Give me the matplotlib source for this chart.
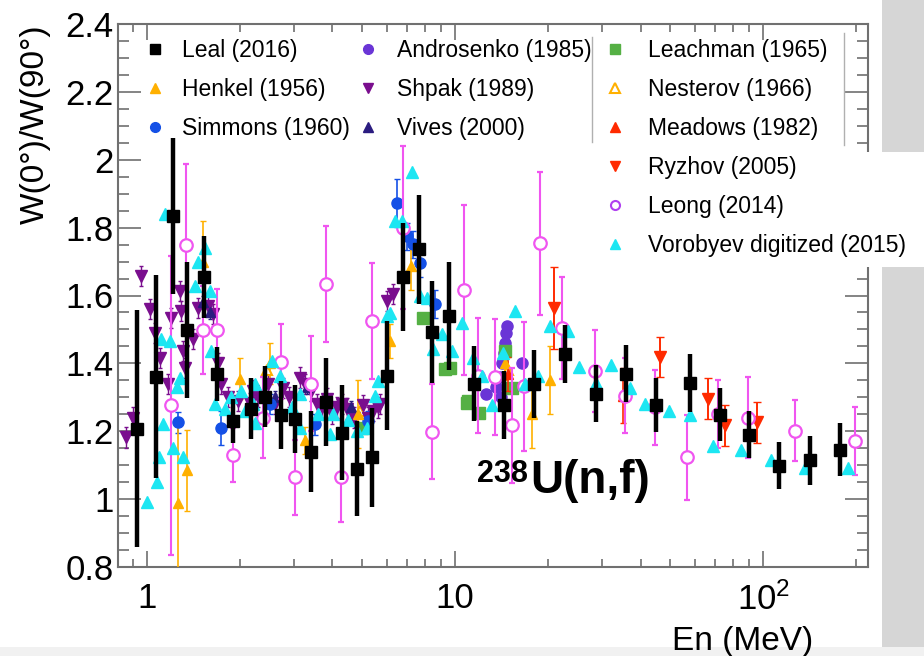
import matplotlib
matplotlib.use('Agg')
import matplotlib.pyplot as plt
from matplotlib.lines import Line2D
from matplotlib.patches import Rectangle
from matplotlib.ticker import FixedLocator, LogLocator, MultipleLocator, NullFormatter, FuncFormatter

plt.rcParams['font.family'] = ['Liberation Sans', 'DejaVu Sans']
plt.rcParams['mathtext.default'] = 'regular'

# ---------------- data ----------------
leal_E = [0.93, 1.07, 1.215, 1.349, 1.531, 1.688, 1.902, 2.177, 2.416, 2.72, 3.02, 3.41, 3.81, 4.30, 4.81,
          5.38, 6.01, 6.77, 7.63, 8.42, 9.56, 11.5, 14.4, 18.0, 22.8, 28.7, 35.9, 45.0, 58.0, 72.2, 90.2,
          112.8, 142, 178]
leal_W = [1.208, 1.361, 1.833, 1.499, 1.654, 1.369, 1.231, 1.267, 1.302, 1.249, 1.237, 1.14, 1.287, 1.196,
          1.09, 1.123, 1.364, 1.654, 1.736, 1.493, 1.54, 1.34, 1.278, 1.34, 1.428, 1.311, 1.37, 1.278, 1.343,
          1.249, 1.19, 1.099, 1.114, 1.146]
leal_err = [0.35, 0.30, 0.23, 0.20, 0.12, 0.08, 0.065, 0.09, 0.09, 0.10, 0.10, 0.12, 0.13, 0.14, 0.14, 0.145,
            0.16, 0.16, 0.16, 0.15, 0.16, 0.11, 0.10, 0.10, 0.085, 0.085, 0.085, 0.08, 0.085, 0.077, 0.07,
            0.068, 0.073, 0.077]

henkel_E = [1.26, 1.35, 1.52, 2.0, 2.5, 3.26, 4.84, 6.15, 7.2, 14.5, 17.8, 20.3]
henkel_W = [0.988, 1.085, 1.70, 1.355, 1.40, 1.173, 1.252, 1.466, 1.687, 1.40, 1.252, 1.352]
henkel_err = [0.25, 0.12, 0.12, 0.06, 0.06, 0.04, 0.10, 0.05, 0.07, 0.05, 0.10, 0.10]

simmons_E = [1.26, 1.74, 2.5, 3.5, 5.2, 6.5, 7.0, 7.3, 7.7, 8.6]
simmons_W = [1.226, 1.21, 1.28, 1.22, 1.23, 1.872, 1.775, 1.751, 1.695, 1.575]
simmons_err = [0.03, 0.05, 0.03, 0.03, 0.03, 0.07, 0.04, 0.04, 0.04, 0.04]

andro_E = [12.6, 13.6, 14.0, 14.1, 14.2, 14.4, 14.5, 14.6, 14.7, 16.5]
andro_W = [1.31, 1.33, 1.36, 1.30, 1.40, 1.43, 1.46, 1.49, 1.51, 1.40]

shpak_E = [0.855, 0.90, 0.956, 1.02, 1.06, 1.10, 1.17, 1.20, 1.28, 1.29, 1.31, 1.33, 1.41, 1.46, 1.58, 1.64,
           1.70, 1.74, 1.83, 1.97, 2.16, 2.21, 2.3, 2.47, 2.6, 2.76, 2.9, 3.14, 3.26, 3.4, 3.56, 3.7, 3.84,
           4.0, 4.14, 4.3, 4.46, 4.7, 5.02, 5.2, 5.41, 5.6, 5.7, 6.0, 6.28]
shpak_W = [1.182, 1.24, 1.657, 1.56, 1.49, 1.416, 1.34, 1.534, 1.613, 1.554, 1.437, 1.387, 1.472, 1.563, 1.569,
           1.545, 1.402, 1.34, 1.30, 1.29, 1.284, 1.32, 1.30, 1.34, 1.28, 1.328, 1.30, 1.358, 1.34, 1.32, 1.281,
           1.27, 1.296, 1.25, 1.27, 1.28, 1.267, 1.24, 1.276, 1.24, 1.261, 1.27, 1.281, 1.584, 1.604]

vives_E = [1.52, 1.6, 2.6, 3.3, 4.6]
vives_W = [1.58, 1.55, 1.30, 1.33, 1.27]

leach_E = [5.0, 7.85, 9.3, 9.6, 10.9, 11.0, 12.0, 14.5, 15.3]
leach_W = [1.21, 1.534, 1.384, 1.387, 1.284, 1.29, 1.255, 1.437, 1.328]

nest_E = [2.45, 4.9, 14.8]
nest_W = [1.38, 1.26, 1.38]

meadows_E = [14.9, 35.2]
meadows_W = [1.37, 1.305]
meadows_err = [0.05, 0.08]

ryzhov_E = [20.9, 46.3, 66.4, 75.4, 95.5]
ryzhov_W = [1.563, 1.419, 1.296, 1.217, 1.226]
ryzhov_err = [0.12, 0.06, 0.06, 0.06, 0.06]

leong_E = [1.20, 1.34, 1.52, 1.69, 1.90, 2.38, 2.72, 3.02, 3.41, 3.81, 4.27, 5.38, 6.8, 8.42, 10.7, 11.9,
           13.5, 15.3, 16.7, 18.9, 22.3, 28.5, 35.6, 44.6, 56.8, 71.5, 89.3, 127, 199]
leong_W = [1.276, 1.748, 1.499, 1.499, 1.129, 1.24, 1.405, 1.064, 1.34, 1.634, 1.064, 1.525, 1.80, 1.199,
           1.616, 1.364, 1.36, 1.217, 1.333, 1.754, 1.505, 1.378, 1.305, 1.27, 1.123, 1.252, 1.24, 1.202, 1.17]
leong_err = [0.44, 0.24, 0.13, 0.12, 0.08, 0.12, 0.11, 0.11, 0.14, 0.17, 0.13, 0.17, 0.24, 0.14, 0.25, 0.17,
             0.17, 0.17, 0.19, 0.21, 0.15, 0.12, 0.11, 0.11, 0.125, 0.10, 0.12, 0.09, 0.10]

voro_E = [1.0, 1.08, 1.09, 1.127, 1.11, 1.19, 1.144, 1.215, 1.31, 1.28, 1.25, 1.43, 1.46, 1.54, 1.6, 1.61,
          1.66, 1.79, 1.87, 2.02, 2.08, 2.21, 2.24, 2.24, 2.55, 2.70, 2.96, 3.14, 3.14, 3.59, 3.93, 4.01, 4.49,
          4.81, 5.18, 5.5, 5.62, 6.01, 6.15, 6.38, 6.71, 7.23, 7.69, 8.10, 8.5, 9.05, 9.78, 10.5, 11.4, 12.2,
          13.2, 14.3, 15.6, 16.9, 18.6, 20.3, 23.3, 25.3, 28.7, 32.1, 37, 41.5, 49.6, 58, 69, 85, 106, 137, 189]
voro_W = [0.991, 1.05, 1.123, 1.22, 1.472, 1.466, 1.84, 1.152, 1.123, 1.358, 1.33, 1.628, 1.70, 1.74, 1.613,
          1.437, 1.281, 1.267, 1.30, 1.32, 1.261, 1.281, 1.34, 1.223, 1.408, 1.364, 1.27, 1.311, 1.211, 1.252,
          1.193, 1.252, 1.232, 1.202, 1.21, 1.305, 1.349, 1.54, 1.549, 1.819, 1.819, 1.965, 1.598, 1.593, 1.443,
          1.487, 1.437, 1.519, 1.416, 1.364, 1.276, 1.431, 1.554, 1.34, 1.364, 1.51, 1.496, 1.39, 1.343, 1.396,
          1.328, 1.281, 1.261, 1.249, 1.158, 1.146, 1.114, 1.093, 1.093]

x_ticks = [1, 10, 100]
x_ticklabels = ['1', '10', r'$10^{2}$']

# ---------------- styles ----------------
C_LEAL = 'black'
C_HENKEL = '#FFB000'
C_SIMMONS = '#1450E6'
C_ANDRO = '#6A35D6'
C_SHPAK = '#7A0E8E'
C_VIVES = '#2B1C80'
C_LEACH = '#55B044'
C_NEST = '#FFB000'
C_MEAD = '#FF2A00'
C_RYZ = '#FF2A00'
C_LEONG = '#F055F0'
C_LEONG_LEG = '#B040F0'
C_VORO = '#1CE6F2'

W_PX, H_PX = 924, 656
def fx(px):
    return px / W_PX
def fy(py):
    return 1 - py / H_PX

fig = plt.figure(figsize=(9.24, 6.56), dpi=100)
fig.patch.set_facecolor('white')
# gray backdrop strip at right edge (photo background)
fig.add_artist(Rectangle((fx(882), 0), fx(924) - fx(882), 1, transform=fig.transFigure,
                         facecolor='#d6d6d6', edgecolor='none', zorder=-5))
fig.add_artist(Rectangle((0, 0), 1, fy(647), transform=fig.transFigure,
                         facecolor='#f1f1f1', edgecolor='none', zorder=-5))

ax = fig.add_axes([fx(118), fy(567), fx(868) - fx(118), fy(24) - fy(567)])

# ---------------- data drawing ----------------
ax.errorbar(shpak_E, shpak_W, yerr=0.03, fmt='v', color=C_SHPAK, ms=8, elinewidth=1, capsize=1.5, zorder=3)
ax.errorbar(vives_E, vives_W, yerr=0.02, fmt='^', color=C_VIVES, ms=7, elinewidth=1, capsize=1.5, zorder=3)
ax.errorbar(simmons_E, simmons_W, yerr=simmons_err, fmt='o', color=C_SIMMONS, ms=8, elinewidth=1.2,
            capsize=2, zorder=3)
ax.plot(andro_E, andro_W, 'o', color=C_ANDRO, ms=8, zorder=3)
ax.errorbar(henkel_E, henkel_W, yerr=henkel_err, fmt='^', color=C_HENKEL, ms=7, elinewidth=1.2,
            capsize=2, zorder=3)
ax.plot(nest_E, nest_W, '^', mfc='white', mec=C_NEST, mew=1.5, ms=7, zorder=3)
ax.plot(leach_E, leach_W, 's', color=C_LEACH, ms=9, zorder=3)
ax.errorbar(meadows_E, meadows_W, yerr=meadows_err, fmt='^', color=C_MEAD, ms=7, elinewidth=1.2,
            capsize=2.5, zorder=3)
ax.errorbar(ryzhov_E, ryzhov_W, yerr=ryzhov_err, fmt='v', color=C_RYZ, ms=8, elinewidth=1.4,
            capsize=3, zorder=3)
ax.errorbar(leong_E, leong_W, yerr=leong_err, fmt='o', mfc='white', mec=C_LEONG, ecolor=C_LEONG, ms=9,
            mew=1.6, elinewidth=1.5, capsize=2.5, zorder=4)
ax.plot(voro_E, voro_W, '^', color=C_VORO, ms=9, zorder=5)
ax.errorbar(leal_E, leal_W, yerr=leal_err, fmt='s', color=C_LEAL, ms=8.5, elinewidth=3.2, capsize=0,
            zorder=6)

# ---------------- axes ----------------
ax.set_xscale('log')
ax.set_xlim(0.805, 219)
ax.set_ylim(0.8, 2.4)
ax.xaxis.set_major_locator(FixedLocator(x_ticks))
ax.set_xticklabels(x_ticklabels)
ax.xaxis.set_minor_locator(LogLocator(base=10, subs=range(2, 10), numticks=20))
ax.xaxis.set_minor_formatter(NullFormatter())
ax.yaxis.set_major_locator(MultipleLocator(0.2))
ax.yaxis.set_minor_locator(MultipleLocator(0.05))
ax.yaxis.set_major_formatter(FuncFormatter(lambda v, p: f'{v:g}'))

spine_c = '#707070'
for s in ax.spines.values():
    s.set_color(spine_c)
    s.set_linewidth(1.5)
ax.tick_params(which='both', direction='in', top=True, right=True, color=spine_c, width=1.2)
ax.tick_params(axis='x', which='major', length=11.5, labelsize=25, pad=11)
ax.tick_params(axis='x', which='minor', length=6)
ax.tick_params(axis='y', which='major', length=16.5, labelsize=25, pad=3)
ax.tick_params(axis='y', which='minor', length=8)

ax.set_ylabel('W(0°)/W(90°)', fontsize=24, loc='top')
ax.yaxis.set_label_coords(-0.09, 1.0)
fig.text(fx(813), fy(650), 'En (MeV)', fontsize=24, ha='right', va='baseline')

ax.text((528 - 118) / 750, (567 - 482) / 543, '238', transform=ax.transAxes, fontsize=22,
        fontweight='bold', ha='right', va='baseline', zorder=7)
ax.text((530 - 118) / 750, (567 - 493) / 543, 'U(n,f)', transform=ax.transAxes, fontsize=33,
        fontweight='bold', ha='left', va='baseline', zorder=7)

# ---------------- legends ----------------
def h(marker, color, ms, open_=False):
    if open_:
        return Line2D([], [], ls='', marker=marker, mfc='white', mec=color, mew=1.5, ms=ms)
    return Line2D([], [], ls='', marker=marker, color=color, ms=ms)

FS = 16.5
leg_kw = dict(loc='upper left', frameon=False, borderpad=0, borderaxespad=0, fontsize=FS,
              handlelength=1.0, labelspacing=0.70)

col1 = fig.legend([h('s', C_LEAL, 7.5), h('^', C_HENKEL, 7), h('o', C_SIMMONS, 7)],
                  ['Leal (2016)', 'Henkel (1956)', 'Simmons (1960)'],
                  bbox_to_anchor=(fx(143.5), fy(39)), handletextpad=0.68, **leg_kw)
col2 = fig.legend([h('o', C_ANDRO, 7), h('v', C_SHPAK, 7), h('^', C_VIVES, 7)],
                  ['Androsenko (1985)', 'Shpak (1989)', 'Vives (2000)'],
                  bbox_to_anchor=(fx(356.5), fy(39)), handletextpad=0.76, **leg_kw)
col3 = fig.legend([h('s', C_LEACH, 7.5), h('^', C_NEST, 6.5, True), h('^', C_MEAD, 7),
                   h('v', C_RYZ, 7), h('o', C_LEONG_LEG, 6.5, True), h('^', C_VORO, 7)],
                  ['Leachman (1965)', 'Nesterov (1966)', 'Meadows (1982)', 'Ryzhov (2005)',
                   'Leong (2014)', 'Vorobyev digitized (2015)'],
                  bbox_to_anchor=(fx(603.5), fy(39)), handletextpad=0.94, **leg_kw)
for lg in (col1, col2, col3):
    lg.set_zorder(10)

# white box behind lower part of third legend column (covers frame)
fig.add_artist(Rectangle((fx(593), fy(267)), fx(924) - fx(593), fy(152) - fy(267),
                         transform=fig.transFigure, facecolor='white', edgecolor='none', zorder=8))
fig.add_artist(Line2D([fx(592), fx(592)], [fy(37), fy(142)], transform=fig.transFigure,
                      color='#b0b0b0', lw=1, zorder=9))
fig.add_artist(Line2D([fx(844), fx(844)], [fy(33), fy(145)], transform=fig.transFigure,
                      color='#b0b0b0', lw=1, zorder=9))

fig.savefig('out.png', dpi=100)
